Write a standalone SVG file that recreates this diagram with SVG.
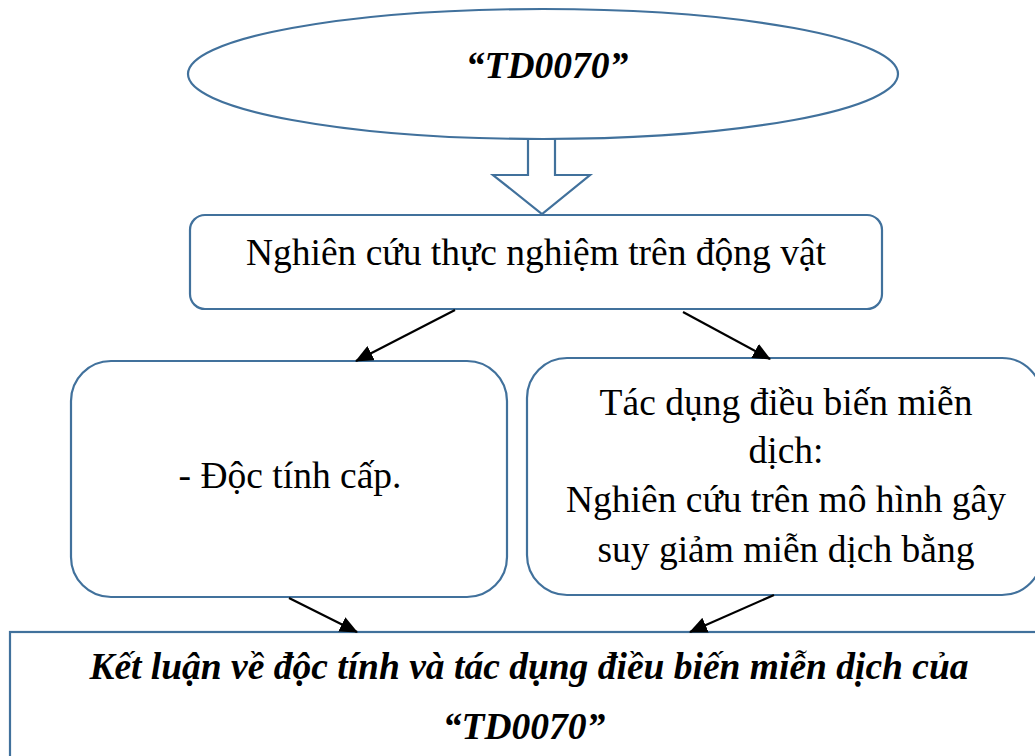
<svg xmlns="http://www.w3.org/2000/svg" width="1035" height="756" viewBox="0 0 1035 756">
<style>
.shape{fill:#ffffff;stroke:#41719c;stroke-width:2.2}
.t{font-family:"Liberation Serif","Times New Roman",serif;font-size:37.5px;fill:#000;text-anchor:middle}
.bi{font-weight:bold;font-style:italic}
.conn{stroke:#000;stroke-width:2.2;fill:none;marker-end:url(#ah)}
</style>
<defs>
<marker id="ah" markerUnits="userSpaceOnUse" markerWidth="18" markerHeight="16" refX="17" refY="8" orient="auto">
<path d="M0,0 L18,8 L0,16 z" fill="#000"/>
</marker>
</defs>
<rect width="1035" height="756" fill="#ffffff"/>
<g id="start">
<ellipse class="shape" cx="543" cy="74" rx="355" ry="65"/>
<text class="t bi" x="547" y="78">“TD0070”</text>
</g>
<g id="block-arrow">
<polygon class="shape" points="528,139 555,139 555,175 590,175 542,214 493,175 528,175"/>
</g>
<g id="study">
<rect class="shape" x="190" y="215" width="692" height="94" rx="15"/>
<text class="t" x="536" y="265">Nghiên cứu thực nghiệm trên động vật</text>
</g>
<g id="toxicity">
<rect class="shape" x="71" y="361" width="436" height="236" rx="40"/>
<text class="t" x="290" y="488">- Độc tính cấp.</text>
</g>
<g id="immune">
<rect class="shape" x="527" y="358" width="515" height="237" rx="40"/>
<text class="t" x="786" y="415">Tác dụng điều biến miễn</text>
<text class="t" x="786" y="463">dịch:</text>
<text class="t" x="786" y="512">Nghiên cứu trên mô hình gây</text>
<text class="t" x="786" y="562">suy giảm miễn dịch bằng</text>
</g>
<g id="conclusion">
<rect class="shape" x="10" y="632" width="1040" height="140"/>
<text class="t bi" x="529" y="679">Kết luận về độc tính và tác dụng điều biến miễn dịch của</text>
<text class="t bi" x="524" y="739">“TD0070”</text>
</g>
<g id="connectors">
<line class="conn" x1="455" y1="310" x2="356" y2="361"/>
<line class="conn" x1="683" y1="312" x2="770" y2="359"/>
<line class="conn" x1="289" y1="598" x2="357" y2="632"/>
<line class="conn" x1="774" y1="595" x2="690" y2="632"/>
</g>
</svg>
